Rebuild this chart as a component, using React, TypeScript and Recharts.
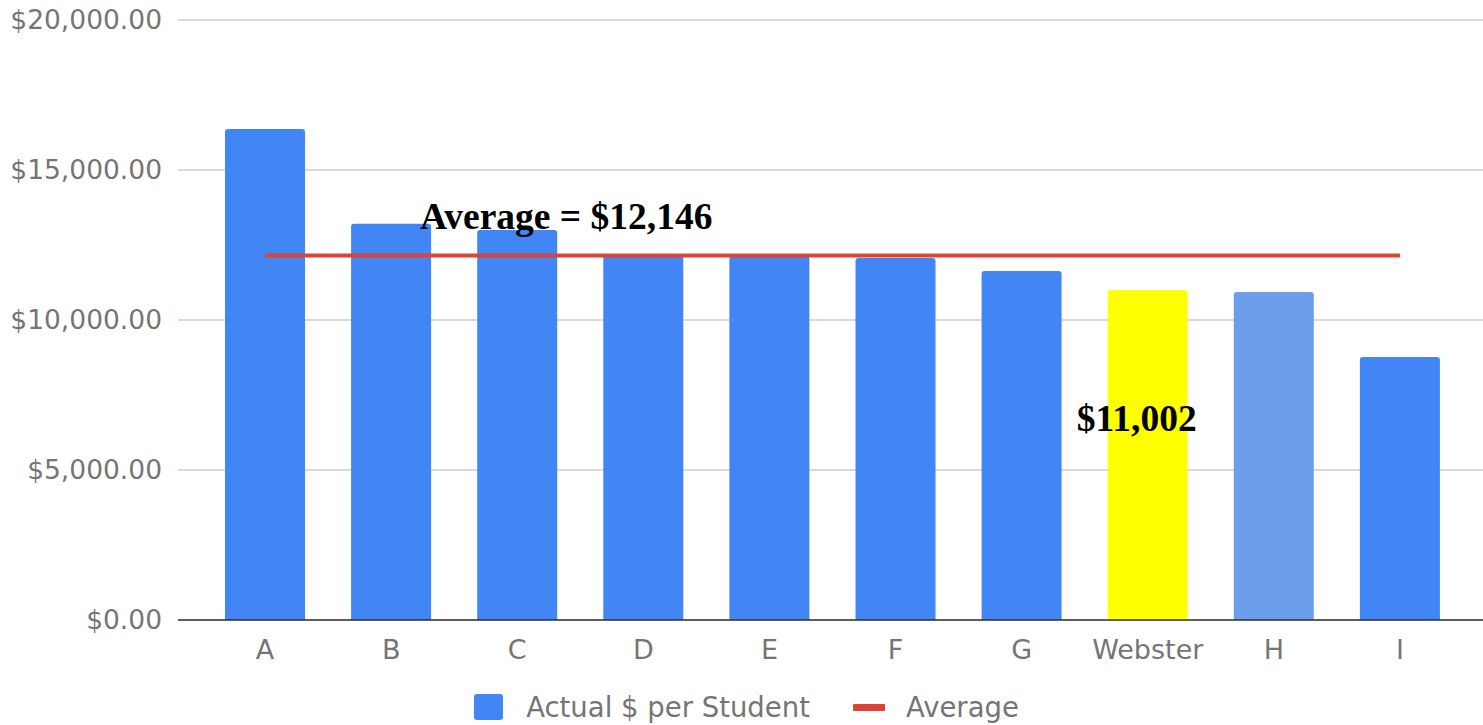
import React from 'react';
import {
  ComposedChart,
  Bar,
  Line,
  XAxis,
  YAxis,
  CartesianGrid,
  Legend,
  Cell,
  ReferenceDot,
} from 'recharts';

const categories = ['A', 'B', 'C', 'D', 'E', 'F', 'G', 'Webster', 'H', 'I'];
const actualPerStudent = [16370, 13210, 13000, 12200, 12130, 12070, 11630, 11002, 10930, 8770];
const averageValue = 12146;
const barColors = [
  '#4285f4', '#4285f4', '#4285f4', '#4285f4', '#4285f4',
  '#4285f4', '#4285f4', '#ffff00', '#6d9eeb', '#4285f4',
];
const yTicks = [0, 5000, 10000, 15000, 20000];
const seriesNames = { actual: 'Actual $ per Student', average: 'Average' };
const averageLabel = 'Average = $12,146';
const websterLabel = '$11,002';

const data = categories.map((name, i) => ({
  name,
  actual: actualPerStudent[i],
  average: averageValue,
}));

const fmt = (v: number) =>
  '$' + v.toLocaleString('en-US', { minimumFractionDigits: 2, maximumFractionDigits: 2 });

const tickFont = { fill: '#757575', fontFamily: 'DejaVu Sans' };

const LegendContent = (props: any) => {
  const payload = props.payload || [];
  return (
    <div
      style={{
        height: 36,
        display: 'flex',
        alignItems: 'center',
        justifyContent: 'center',
        fontFamily: 'DejaVu Sans',
        fontSize: 27.5,
        color: '#757575',
        paddingLeft: 10,
      }}
    >
      {payload.map((p: any, i: number) => (
        <div key={i} style={{ display: 'flex', alignItems: 'center', marginLeft: i === 0 ? 0 : 43 }}>
          {p.type === 'line' ? (
            <div style={{ width: 32, height: 7, background: p.color, borderRadius: 1, marginRight: 21 }} />
          ) : (
            <div style={{ width: 29, height: 26, background: p.color, borderRadius: 3, marginRight: 23 }} />
          )}
          <span>{p.value}</span>
        </div>
      ))}
    </div>
  );
};

export default function App() {
  return (
    <div style={{ position: 'absolute', left: 0, top: 0, width: 1483, height: 725, background: '#fff' }}>
      <ComposedChart
        width={1483}
        height={725}
        data={data}
        margin={{ top: 20, right: 0, bottom: 0, left: 0 }}
      >
        <CartesianGrid vertical={false} stroke="#cccccc" strokeWidth={1.5} />
        <XAxis
          dataKey="name"
          padding={{ left: 24, right: 20 }}
          height={69}
          tickLine={false}
          axisLine={{ stroke: '#333333', strokeWidth: 1.5 }}
          tickMargin={14}
          tick={{ ...tickFont, fontSize: 27 }}
          interval={0}
        />
        <YAxis
          width={178}
          domain={[0, 20000]}
          ticks={yTicks}
          tickFormatter={fmt}
          axisLine={false}
          tickLine={false}
          tickMargin={10}
          tick={{ ...tickFont, fontSize: 26.5 }}
        />
        <Legend verticalAlign="bottom" content={<LegendContent />} />
        <Bar
          dataKey="actual"
          name={seriesNames.actual}
          fill="#4285f4"
          barSize={80}
          radius={[3, 3, 0, 0]}
          isAnimationActive={false}
          legendType="rect"
        >
          {data.map((d, i) => (
            <Cell key={d.name} fill={barColors[i]} />
          ))}
        </Bar>
        <Line
          dataKey="average"
          name={seriesNames.average}
          stroke="#db4437"
          strokeWidth={4}
          dot={false}
          activeDot={false}
          isAnimationActive={false}
          legendType="line"
        />
        <ReferenceDot
          x="C"
          y={13467}
          r={0}
          fill="none"
          stroke="none"
          label={{
            value: averageLabel,
            position: 'center',
            dx: 49,
            fill: '#000',
            fontSize: 37.5,
            fontWeight: 'bold',
            fontFamily: 'Liberation Serif',
          }}
        />
        <ReferenceDot
          x="Webster"
          y={6733}
          r={0}
          fill="none"
          stroke="none"
          label={{
            value: websterLabel,
            position: 'center',
            dx: -11,
            fill: '#000',
            fontSize: 37.5,
            fontWeight: 'bold',
            fontFamily: 'Liberation Serif',
          }}
        />
      </ComposedChart>
    </div>
  );
}
